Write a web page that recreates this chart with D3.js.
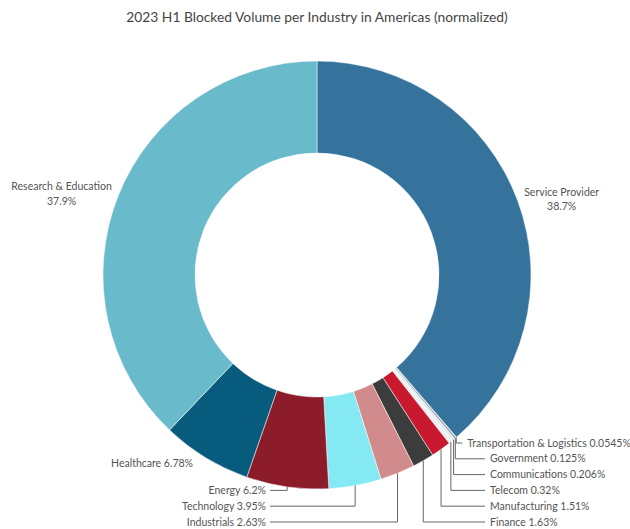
<!DOCTYPE html>
<html>
<head>
<meta charset="utf-8">
<script src="https://cdn.jsdelivr.net/npm/d3@7"></script>
<style>
  body { margin: 0; background: #fff; }
  svg { display: block; font-family: Lato, "Noto Sans", sans-serif; }
</style>
</head>
<body>
<div id="chart"></div>
<script>
// 2023 H1 blocked volume per industry, Americas (normalized %)
const industries = [
  "Service Provider", "Transportation & Logistics", "Government", "Communications",
  "Telecom", "Manufacturing", "Finance", "Industrials", "Technology", "Energy",
  "Healthcare", "Research & Education"
];
const shares = [38.7, 0.0545, 0.125, 0.206, 0.32, 1.51, 1.63, 2.63, 3.95, 6.2, 6.78, 37.9];
const colors = [
  "#36739c", "#6aa6cf", "#8a8f94", "#dfe8ee", "#eef2f5", "#c8192f",
  "#3c3c3c", "#d28b8c", "#84e9f3", "#8c1c2a", "#075b7c", "#69bacb"
];

const width = 630, height = 529;
const cx = 317, cy = 275;
const outerR = 214, innerR = 122;

const data = industries.map((name, i) => ({ name, value: shares[i], color: colors[i] }));

const pie = d3.pie().sort(null).value(d => d.value);
const arcs = pie(data);

const arc = d3.arc().innerRadius(innerR).outerRadius(outerR);

const svg = d3.select("#chart").append("svg")
  .attr("width", width)
  .attr("height", height);

svg.append("text")
  .attr("x", cx)
  .attr("y", 22)
  .attr("text-anchor", "middle")
  .attr("fill", "#444")
  .style("font-size", "13.8px")
  .text("2023 H1 Blocked Volume per Industry in Americas (normalized)");

const g = svg.append("g").attr("transform", `translate(${cx},${cy})`);

g.append("g")
  .selectAll("path")
  .data(arcs)
  .join("path")
  .attr("d", arc)
  .attr("fill", d => d.data.color)
  .attr("stroke", "#fff")
  .attr("stroke-width", 0.5);

const fmt = v => `${v}%`;
const mid = d => (d.startAngle + d.endAngle) / 2;
const edge = (a, r) => [r * Math.sin(a), -r * Math.cos(a)];

// big slices: label just outside the ring
const bigNames = ["Service Provider", "Research & Education", "Healthcare"];
const labels = g.append("g").attr("fill", "#555").style("font-size", "10.5px");

arcs.filter(d => bigNames.includes(d.data.name)).forEach(d => {
  const a = mid(d);
  const [x, y] = edge(a, outerR + 7);
  const right = x > 0;
  const t = labels.append("text")
    .attr("x", x)
    .attr("y", y)
    .attr("text-anchor", right ? "start" : "end");
  if (d.data.value > 20) {
    // two lines, centred on each other
    t.attr("text-anchor", "middle");
    const tmp = labels.append("text").text(d.data.name);
    const len = tmp.node().getComputedTextLength();
    tmp.remove();
    const xc = right ? x + len / 2 : x - len / 2;
    t.append("tspan").attr("x", xc).attr("dy", "-0.25em").text(d.data.name);
    t.append("tspan").attr("x", xc).attr("dy", "1.4em").text(fmt(d.data.value));
  } else {
    t.attr("x", right ? x + 9 : x - 9)
      .attr("dy", "0.35em")
      .text(`${d.data.name} ${fmt(d.data.value)}`);
  }
});

// small slices: elbow callouts stacked below the ring
const bottomY = outerR + 33;
const step = 15.8;
const rightGroup = ["Finance", "Manufacturing", "Telecom", "Communications", "Government", "Transportation & Logistics"];
const leftGroup = ["Industrials", "Technology", "Energy"];
const lines = g.append("g").attr("fill", "none").attr("stroke", "#666").attr("stroke-width", 1);

rightGroup.forEach((name, i) => {
  const d = arcs.find(a => a.data.name === name);
  const [x, y] = edge(mid(d), outerR);
  const ly = bottomY - i * step;
  const isLast = i === rightGroup.length - 1;
  const lx = isLast ? x + 11 : 173;
  lines.append("path").attr("d", `M${x},${y}V${ly}H${lx - 5}`);
  labels.append("text")
    .attr("x", lx)
    .attr("y", ly)
    .attr("dy", "0.35em")
    .text(`${name} ${fmt(d.data.value)}`);
});

leftGroup.forEach((name, i) => {
  const d = arcs.find(a => a.data.name === name);
  const [x, y] = edge(mid(d), outerR);
  const ly = bottomY - i * step;
  const lx = -51;
  lines.append("path").attr("d", `M${x},${y}V${ly}H${lx + 4}`);
  labels.append("text")
    .attr("x", lx)
    .attr("y", ly)
    .attr("dy", "0.35em")
    .attr("text-anchor", "end")
    .text(`${name} ${fmt(d.data.value)}`);
});
</script>
</body>
</html>
